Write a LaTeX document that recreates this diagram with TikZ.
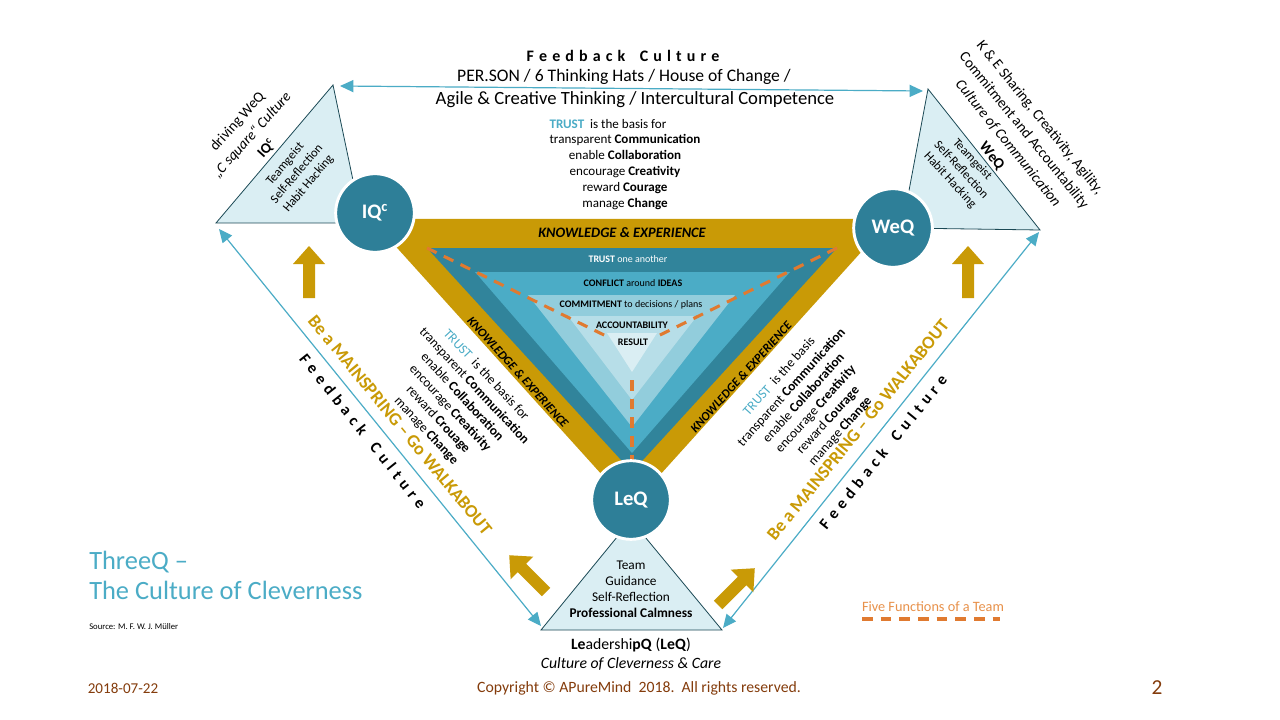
\documentclass[tikz,border=0pt]{standalone}
\usepackage{fontspec}
\setmainfont{Carlito}
\usetikzlibrary{arrows.meta,calc}
\definecolor{gold}{HTML}{C99A06}
\definecolor{tealD}{HTML}{31849B}
\definecolor{blueM}{HTML}{4BACC6}
\definecolor{blueC}{HTML}{92CDDC}
\definecolor{blueA}{HTML}{B7DEE8}
\definecolor{blueR}{HTML}{DAEEF3}
\definecolor{orng}{HTML}{E07A30}
\definecolor{orngL}{HTML}{E8914A}
\definecolor{brwn}{HTML}{843C0C}
\definecolor{circ}{HTML}{2E7F98}
\newcommand\fsz[2]{\fontsize{#1}{#2}\selectfont}
\newcommand\ls{\hspace{0.32em}}
\tikzset{
  lighttri/.style={fill=blueR, draw=tealD!55!black, line width=0.6pt},
  qc/.style={circle, fill=circ, draw=white, line width=2.2pt, minimum size=59pt, inner sep=0pt, text=white, font=\bfseries\fsz{15.5}{18}},
  bluearrow/.style={draw=blueM, line width=0.9pt, {Triangle[length=10pt,width=9pt]}-{Triangle[length=10pt,width=9pt]}},
  dashline/.style={draw=orng, line width=2.3pt, dash pattern=on 8pt off 6pt},
  txt/.style={inner sep=0pt, align=center},
  goldarrow/.pic={\fill[gold] (-6,0) -- (-6,-34) -- (-16,-34) -- (0,-52) -- (16,-34) -- (6,-34) -- (6,0) -- cycle;}
}
\begin{document}
\begin{tikzpicture}[x=0.75pt,y=-0.75pt]
\useasboundingbox (0,0) rectangle (1280,720);
\fill[white] (0,0) rectangle (1280,720);

% ---------- light corner triangles ----------
\coordinate (tlT) at (333,85); \coordinate (tlL) at (216,223); \coordinate (tlR) at (362,223);
\filldraw[lighttri] (tlT) -- (tlL) -- (tlR) -- cycle;
\coordinate (trT) at (928,89); \coordinate (trR) at (1040,230); \coordinate (trL) at (902,228);
\filldraw[lighttri] (trT) -- (trR) -- (trL) -- cycle;
\coordinate (bT) at (631,520); \coordinate (bL) at (541,630); \coordinate (bR) at (722,630);
\filldraw[lighttri] (bT) -- (bL) -- (bR) -- cycle;

% ---------- central inverted pyramid ----------
\fill[gold] (371,219) -- (891,219) -- (631,507) -- cycle;
\coordinate (dL) at (427,248); \coordinate (dR) at (837,248);
\fill[tealD] (dL) -- (dR) -- (632,472) -- cycle;
\fill[blueM] (475,272) -- (790,272) -- (632,453) -- cycle;
\fill[blueC] (528,295) -- (735,295) -- (632,427) -- cycle;
\fill[blueA] (568,316) -- (697,316) -- (632,400) -- cycle;
\fill[blueR] (607,333) -- (657,333) -- (632,372) -- cycle;

\coordinate (rL) at (606,336); \coordinate (rR) at (658,336);
\coordinate (vA) at (632,380); \coordinate (vB) at (632,464);
\draw[dashline] (dL) -- (rL);
\draw[dashline] (dR) -- (rR);
\draw[dashline] (vA) -- (vB);

\node[txt, font=\bfseries\itshape\fsz{10.8}{12}] (keTop) at (622,233) {KNOWLEDGE \& EXPERIENCE};
\node[txt, font=\bfseries\itshape\fsz{9.3}{11}, rotate=-48] (keLeft) at (518,372) {KNOWLEDGE \& EXPERIENCE};
\node[txt, font=\bfseries\itshape\fsz{9.3}{11}, rotate=48] (keRight) at (741,377) {KNOWLEDGE \& EXPERIENCE};

\node[txt, font=\fsz{7.5}{9}, text=white] (s1) at (628,259) {\textbf{TRUST} one another};
\node[txt, font=\fsz{7.5}{9}] (s2) at (633,283) {\textbf{CONFLICT} around \textbf{IDEAS}};
\node[txt, font=\fsz{7.5}{9}] (s3) at (631,305) {\textbf{COMMITMENT} to decisions / plans};
\node[txt, font=\fsz{7.5}{9}] (s4) at (632,325) {\textbf{ACCOUNTABILITY}};
\node[txt, font=\fsz{7.5}{9}] (s5) at (633,342) {\textbf{RESULT}};

% ---------- circles ----------
\node[qc] (iqc) at (375,213) {IQ\textsuperscript{c}};
\node[qc] (weq) at (893,228) {WeQ};
\node[qc] (leq) at (631,500) {LeQ};

% ---------- blue double arrows ----------
\coordinate (aT1) at (340,86); \coordinate (aT2) at (923,91);
\coordinate (aL1) at (219,229); \coordinate (aL2) at (541,626);
\coordinate (aR1) at (1039,232); \coordinate (aR2) at (723,628);
\draw[bluearrow] (aT1) -- (aT2);
\draw[bluearrow] (aL1) -- (aL2);
\draw[bluearrow] (aR1) -- (aR2);

% ---------- gold block arrows ----------
\pic at (309,298) {goldarrow};
\pic at (968,298) {goldarrow};
\pic[rotate=45] at (546,592) {goldarrow};
\pic[rotate=-45] at (718,605) {goldarrow};

% ---------- top texts ----------
\node[txt, font=\bfseries\fsz{12}{14}] (fbTop) at (623,56) {F\ls e\ls e\ls d\ls b\ls a\ls c\ls k\hspace{0.9em}C\ls u\ls l\ls t\ls u\ls r\ls e};
\node[txt, font=\fsz{13.2}{15}] (persn) at (624,77) {PER.SON / 6 Thinking Hats / House of Change /};
\node[txt, font=\fsz{14}{16}] (agile) at (635,100) {Agile \& Creative Thinking / Intercultural Competence};
\node[txt, font=\fsz{9.8}{12}] (trTop1) at (608,124) {\textcolor{blueM}{\textbf{TRUST}}\ \ is the basis for};
\node[txt, font=\fsz{9.8}{12}] (trTop2) at (625,172) {transparent \textbf{Communication}\\ enable \textbf{Collaboration}\\ encourage \textbf{Creativity}\\ reward \textbf{Courage}\\ manage \textbf{Change}};

% ---------- rotated side texts ----------
\node[txt, font=\fsz{10}{12.3}, rotate=-47] (trLeft) at (456,403) {\textcolor{blueM}{TRUST}\ \ is the basis for\\ transparent \textbf{Communication}\\ enable \textbf{Collaboration}\\ encourage \textbf{Creativity}\\ reward \textbf{Crouage}\\ manage \textbf{Change}};
\node[txt, font=\fsz{10}{12.3}, rotate=48] (trRight) at (810,404) {\textcolor{blueM}{TRUST}\ \ is the basis\\ transparent \textbf{Communication}\\ enable \textbf{Collaboration}\\ encourage \textbf{Creativity}\\ reward \textbf{Courage}\\ manage \textbf{Change}};

\node[txt, font=\bfseries\fsz{13.6}{15}, text=gold, rotate=-50.5] (msL) at (400,425) {Be a MAINSPRING -- Go WALKABOUT};
\node[txt, font=\bfseries\fsz{13.6}{15}, text=gold, rotate=51] (msR) at (858,430) {Be a MAINSPRING -- Go WALKABOUT};
\node[txt, font=\bfseries\fsz{12}{14}, rotate=-51.5] (fbL) at (363,431) {F\ls e\ls e\ls d\ls b\ls a\ls c\ls k\hspace{0.9em}C\ls u\ls l\ls t\ls u\ls r\ls e};
\node[txt, font=\bfseries\fsz{12}{14}, rotate=51] (fbR) at (883,452) {F\ls e\ls e\ls d\ls b\ls a\ls c\ls k\hspace{0.9em}C\ls u\ls l\ls t\ls u\ls r\ls e};

% ---------- corner texts ----------
\node[txt, font=\fsz{11}{14.8}, rotate=48] (tlTxt) at (252,135) {driving WeQ\\ \textit{„C square“ Culture}\\ \textbf{IQ\textsuperscript{c}}};
\node[txt, font=\fsz{9.4}{11.4}, rotate=50] (tlIn) at (297,174) {Teamgeist\\ Self-Reflection\\ Habit Hacking};
\node[txt, font=\fsz{11.2}{15.4}, rotate=-51] (trTxt) at (1016,137) {K \& E Sharing, Creativity, Agility,\\ Commitment and Accountability\\ \textit{Culture of Communication}\\ \textbf{WeQ}};
\node[txt, font=\fsz{9.4}{11.4}, rotate=-47] (trIn) at (961,170) {Teamgeist\\ Self-Reflection\\ Habit Hacking};

% ---------- bottom ----------
\node[txt, font=\fsz{10}{12}] (bIn) at (631,589) {Team\\ Guidance\\ Self-Reflection\\ \textbf{Professional Calmness}};
\node[txt, font=\fsz{11.8}{13.8}] (leqTxt) at (631,654) {\textbf{Le}adershi\textbf{pQ} (\textbf{LeQ})\\ \textit{Culture of Cleverness \& Care}};

\node[txt, anchor=west, align=left, font=\fsz{19.8}{22.5}, text=blueM] (three) at (89,575) {ThreeQ --\\ The Culture of Cleverness};
\node[txt, anchor=west, font=\fsz{6.5}{7}] (src) at (89,627) {Source: M. F. W. J. Müller};

\node[txt, font=\fsz{10.7}{12}, text=orngL] (legTxt) at (933,607) {Five Functions of a Team};
\coordinate (lg1) at (862,619); \coordinate (lg2) at (1000,619);
\draw[draw=orng, line width=2.3pt, dash pattern=on 8pt off 6pt] (lg1) -- (lg2);

% ---------- footer ----------
\node[txt, font=\fsz{11.3}{12}, text=brwn] (date) at (123,688) {2018-07-22};
\node[txt, font=\fsz{11.8}{12}, text=brwn] (copy) at (639,688) {Copyright © APureMind\ \ 2018.\ \ All rights reserved.};
\node[txt, font=\fsz{16}{18}, text=brwn] (pg) at (1157,688) {2};
\end{tikzpicture}
\end{document}
